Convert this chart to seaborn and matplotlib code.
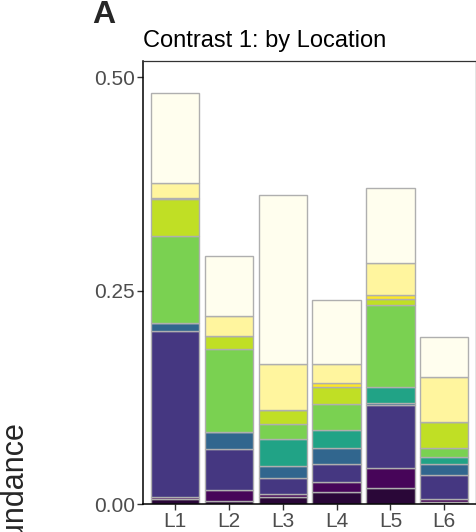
import matplotlib
matplotlib.use("Agg")
import matplotlib.pyplot as plt
import seaborn as sns
import pandas as pd

# stacked relative abundance per location (bottom -> top)
locations = ["L1", "L2", "L3", "L4", "L5", "L6"]
taxa = ["T01", "T02", "T03", "T04", "T05", "T06", "T07", "T08", "T09", "T10"]
taxon_colors = ["#2A0738", "#470559", "#453781", "#31668E", "#21A386",
                "#7AD151", "#C0DF25", "#FDE725", "#FFF59E", "#FFFEEE"]

abundance = {
    "L1": [0.006, 0.002, 0.195, 0.009, 0.000, 0.102, 0.043, 0.002, 0.017, 0.106],
    "L2": [0.004, 0.0125, 0.048, 0.020, 0.000, 0.097, 0.015, 0.000, 0.024, 0.0695],
    "L3": [0.008, 0.004, 0.019, 0.0136, 0.0317, 0.0172, 0.0172, 0.000, 0.0531, 0.198],
    "L4": [0.014, 0.0113, 0.0215, 0.0187, 0.0207, 0.0309, 0.0195, 0.0055, 0.0215, 0.0754],
    "L5": [0.019, 0.0227, 0.0739, 0.003, 0.0187, 0.0953, 0.0078, 0.0043, 0.0371, 0.088],
    "L6": [0.002, 0.0035, 0.0285, 0.0125, 0.009, 0.0105, 0.0297, 0.000, 0.0527, 0.0469],
}

rows = []
for loc in locations:
    for taxon, val in zip(taxa, abundance[loc]):
        rows.append({"Location": loc, "Taxon": taxon, "Abundance": val})
df = pd.DataFrame(rows)
df["Location"] = pd.Categorical(df["Location"], categories=locations, ordered=True)

sns.set_theme(style="white")
plt.rcParams["font.family"] = ["Liberation Sans", "DejaVu Sans"]

fig = plt.figure(figsize=(4.77, 5.32), dpi=100)
ax = fig.add_axes([143 / 477, 28 / 532, (476.5 - 143) / 477, (504 - 61) / 532])

# seaborn stacks the first hue level on top, so feed the order reversed
sns.histplot(
    data=df, x="Location", weights="Abundance", hue="Taxon",
    hue_order=taxa[::-1], palette=dict(zip(taxa, taxon_colors)),
    multiple="stack", discrete=True, shrink=0.9, alpha=1,
    edgecolor="#AFAFAF", linewidth=1.0, legend=False, ax=ax,
)

ax.set_xlim(-0.6, 5.6)
ax.set_ylim(0, 0.519)
ax.set_yticks([0, 0.25, 0.5])
ax.set_yticklabels(["0.00", "0.25", "0.50"])
ax.set_xlabel("")
ax.set_ylabel("")
ax.tick_params(axis="both", length=4, width=1, color="#333333",
               labelsize=15, labelcolor="#4D4D4D", pad=2, left=True, bottom=True)
for side in ["left", "bottom"]:
    ax.spines[side].set_color("black")
    ax.spines[side].set_linewidth(1.1)
for side in ["top", "right"]:
    ax.spines[side].set_color("#333333")
    ax.spines[side].set_linewidth(0.9)

ax.set_title("Contrast 1: by Location", loc="left", fontsize=17, pad=10, color="black")
fig.text(92 / 477, 1 - 23 / 532, "A", fontsize=23, fontweight="bold", va="baseline")
fig.text(16 / 477, 1 - 423 / 532, "Relative Abundance", rotation=90,
         ha="center", va="top", fontsize=22)

fig.savefig("out.png", dpi=100)
plt.close(fig)
